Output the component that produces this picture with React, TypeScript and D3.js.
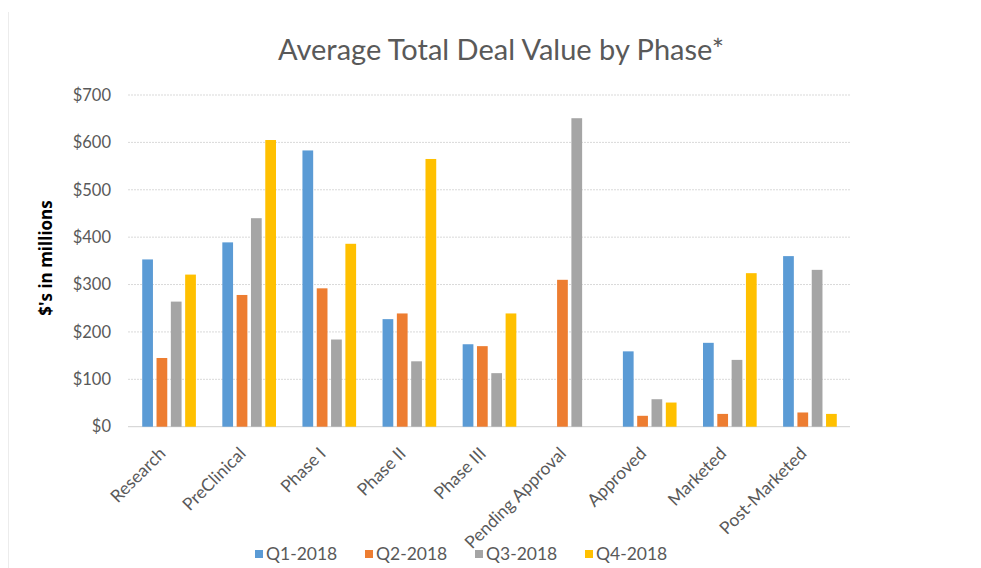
import React from "react";
import * as d3 from "d3";

const categories = ["Research", "PreClinical", "Phase I", "Phase II", "Phase III", "Pending Approval", "Approved", "Marketed", "Post-Marketed"];
const seriesNames = ["Q1-2018", "Q2-2018", "Q3-2018", "Q4-2018"];
const q1 = [353, 389, 583, 227, 174, 0, 159, 177, 360];
const q2 = [145, 278, 292, 239, 170, 310, 23, 27, 30];
const q3 = [264, 440, 184, 138, 113, 651, 58, 141, 331];
const q4 = [321, 605, 386, 565, 239, 0, 51, 324, 27];
const seriesColors = ["#5B9BD5", "#ED7D31", "#A5A5A5", "#FFC000"];
const yTicks = [0, 100, 200, 300, 400, 500, 600, 700];
const title = "Average Total Deal Value by Phase*";
const yTitle = "$'s in millions";

const W = 981;
const H = 568;
const FONT = "Lato, 'Open Sans', sans-serif";

export default function App() {
  const series = [q1, q2, q3, q4];
  const x0 = d3.scaleBand<string>().domain(categories).range([129, 850]).paddingInner(0.33).paddingOuter(0.165);
  const x1 = d3.scaleBand<number>().domain([0, 1, 2, 3]).range([0, x0.bandwidth()]).paddingInner(0.25).paddingOuter(0);
  const y = d3.scaleLinear().domain([0, 700]).range([426.7, 95]);
  const fmt = d3.format("$,");
  const legendX = d3.scaleLinear().domain([0, 3]).range([255, 585]);

  return (
    <svg width={W} height={H} style={{ display: "block", position: "absolute", left: 0, top: 0 }} fontFamily={FONT}>
      <rect x={0} y={0} width={W} height={H} fill="#ffffff" />
      <line x1={8.5} x2={8.5} y1={12} y2={H} stroke="#ececec" strokeWidth={1} />
      <text x={501} y={60} textAnchor="middle" fontSize={29} fill="#595959" fontFamily={FONT}>
        {title}
      </text>
      {yTicks.map((t) => (
        <g key={t}>
          <line x1={128} x2={850} y1={y(t)} y2={y(t)} stroke={t === 0 ? "#cfcfcf" : "#d9d9d9"} strokeWidth={1} strokeDasharray={t === 0 ? undefined : "2,1"} />
          <text x={111} y={y(t)} dy="0.35em" textAnchor="end" fontSize={16.5} fill="#595959">
            {fmt(t)}
          </text>
        </g>
      ))}
      <text transform={`translate(52,258) rotate(-90)`} textAnchor="middle" fontSize={17} fontWeight="bold" fill="#000000" fontFamily="'Open Sans', sans-serif">
        {yTitle}
      </text>
      {categories.map((c, i) => (
        <g key={c} transform={`translate(${x0(c)},0)`}>
          {series.map((s, j) =>
            s[i] > 0 ? (
              <rect key={j} x={x1(j)} y={y(s[i])} width={x1.bandwidth()} height={y(0) - y(s[i])} fill={seriesColors[j]} />
            ) : null
          )}
        </g>
      ))}
      {categories.map((c) => (
        <text
          key={c}
          transform={`translate(${(x0(c) as number) + x0.bandwidth() / 2 - 11},446) rotate(-45)`}
          textAnchor="end"
          dy="0.7em"
          fontSize={17.5}
          fill="#595959"
        >
          {c}
        </text>
      ))}
      {seriesNames.map((n, j) => (
        <g key={n} transform={`translate(${legendX(j)},554)`}>
          <rect x={0} y={-4} width={8} height={8} fill={seriesColors[j]} />
          <text x={11} y={0} dy="0.35em" fontSize={17.5} fill="#595959">
            {n}
          </text>
        </g>
      ))}
    </svg>
  );
}
